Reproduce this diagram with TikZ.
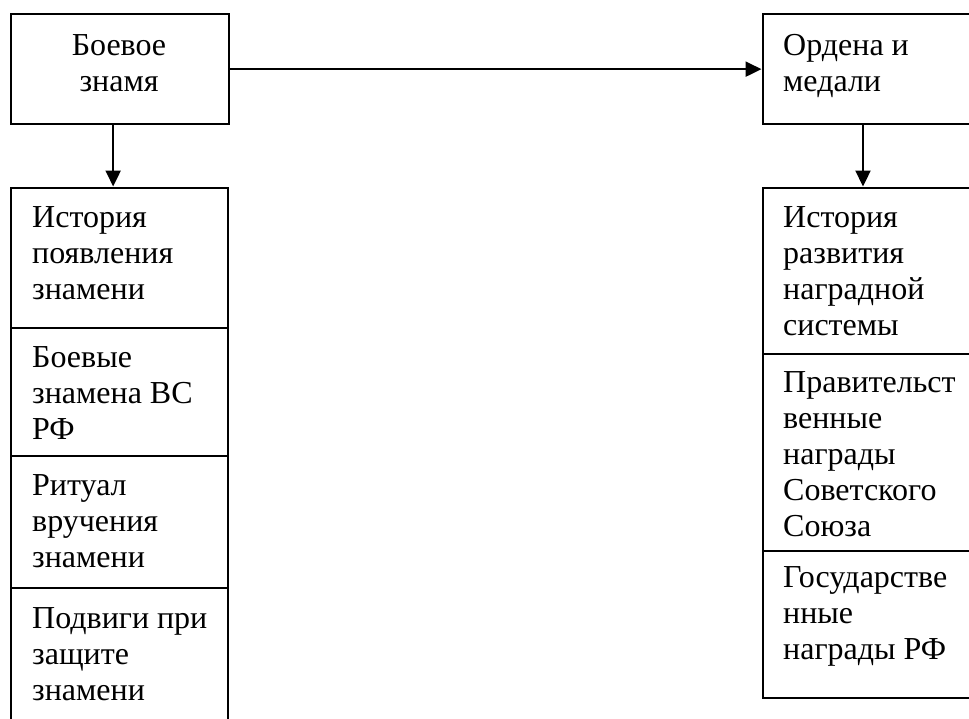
\documentclass[tikz,border=0pt]{standalone}
\usepackage{fontspec}
\setmainfont{Liberation Serif}
\usetikzlibrary{arrows.meta}
\tikzset{
  frame/.style={draw=black, line width=2.3pt, rectangle, inner sep=0pt, anchor=north west},
  txt/.style={inner sep=0pt, align=left, anchor=base west, font=\fontsize{32}{36}\selectfont},
  ctxt/.style={inner sep=0pt, align=center, anchor=base, font=\fontsize{32}{36}\selectfont},
  arr/.style={line width=2.3pt, -{Triangle[length=16pt,width=15pt]}, shorten >=0.5pt}
}
\begin{document}
\begin{tikzpicture}[x=1pt,y=-1pt]
\useasboundingbox (0,0) rectangle (969,718);
\clip (0,0) rectangle (969,718);
\fill[white] (0,0) rectangle (969,718);
% top boxes
\node[frame, minimum width=218pt, minimum height=110pt] (topL) at (10,13) {};
\node[frame, minimum width=240pt, minimum height=110pt] (topR) at (762,13) {};
\node[ctxt] (topLt) at (119,91) {Боевое\\знамя};
\node[txt] (topRt) at (783,91) {Ордена и\\медали};
% left column
\node[frame, minimum width=217pt, minimum height=140pt] (L1) at (10,187) {};
\node[frame, minimum width=217pt, minimum height=128pt] (L2) at (10,327) {};
\node[frame, minimum width=217pt, minimum height=132pt] (L3) at (10,455) {};
\node[frame, minimum width=217pt, minimum height=150pt] (L4) at (10,587) {};
\node[txt] (L1t) at (32,299) {История\\появления\\знамени};
\node[txt] (L2t) at (32,439) {Боевые\\знамена ВС\\РФ};
\node[txt] (L3t) at (32,567) {Ритуал\\вручения\\знамени};
\node[txt] (L4t) at (32,700) {Подвиги при\\защите\\знамени};
% right column
\node[frame, minimum width=240pt, minimum height=166pt] (R1) at (762,187) {};
\node[frame, minimum width=240pt, minimum height=197pt] (R2) at (762,353) {};
\node[frame, minimum width=240pt, minimum height=147pt] (R3) at (762,550) {};
\node[txt] (R1t) at (783,335) {История\\развития\\наградной\\системы};
\node[txt] (R2t) at (783,536) {Правительст\\венные\\награды\\Советского\\Союза};
\node[txt] (R3t) at (783,659) {Государстве\\нные\\награды РФ};
% connectors
\draw[arr] (topL.east) -- (topR.west);
\draw[arr] ([xshift=-7pt]topL.south) -- ([xshift=-6.5pt]L1.north);
\draw[arr] ([xshift=101pt]topR.south west) -- ([xshift=101pt]R1.north west);
\end{tikzpicture}
\end{document}
